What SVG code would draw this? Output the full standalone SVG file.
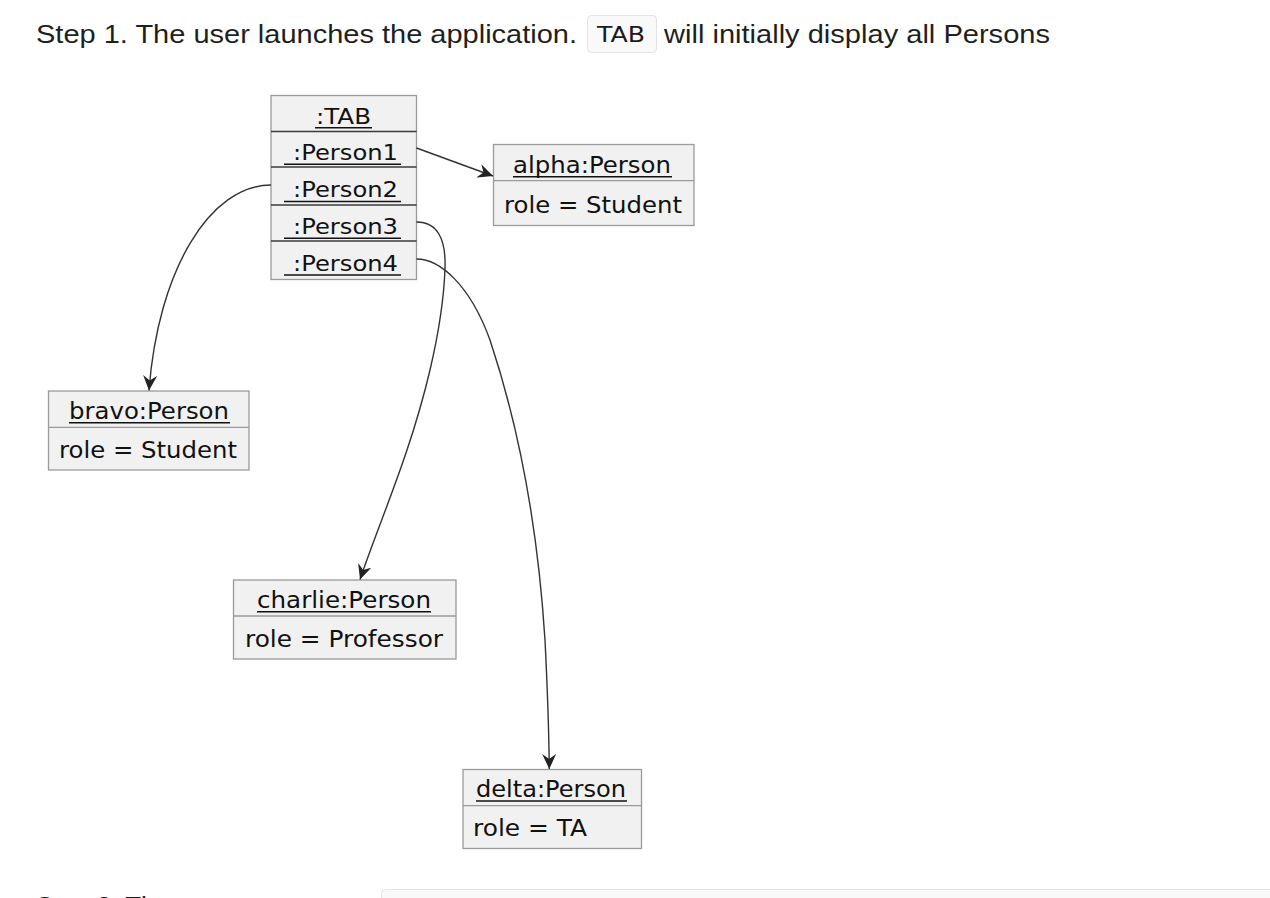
<svg xmlns="http://www.w3.org/2000/svg" width="1270" height="898" viewBox="0 0 1270 898">
<style>
.pg{font-family:"Liberation Sans",Arial,sans-serif;font-size:26px;fill:#1f1f1f}
.code{font-family:"DejaVu Sans","Liberation Sans",sans-serif;font-size:21px;fill:#1a1a1a}
.box{fill:#f1f1f1;stroke:#9a9a9a;stroke-width:1.3}
.sep{stroke:#9a9a9a;stroke-width:1.3}
.sepd{stroke:#3a3a3a;stroke-width:1.3}
.t{font-family:"DejaVu Sans","Noto Sans",sans-serif;font-size:23px;fill:#111}
.tr{font-family:"DejaVu Sans","Noto Sans",sans-serif;font-size:21px;fill:#111}
.ul{stroke:#111;stroke-width:1.4}
.conn{fill:none;stroke:#333;stroke-width:1.4}
</style>
<defs>
<marker id="ah" markerUnits="userSpaceOnUse" markerWidth="16" markerHeight="14" refX="15" refY="7" orient="auto">
<path d="M0,0 L15,7 L0,14 L5,7 Z" fill="#222"/>
</marker>
</defs>
<rect width="1270" height="898" fill="#ffffff"/>

<g id="header">
<text class="pg" x="36" y="43" textLength="541" lengthAdjust="spacingAndGlyphs">Step 1. The user launches the application.</text>
<rect x="587.5" y="15.5" width="69" height="37" rx="4" fill="#f9f9f9" stroke="#e3e3e3"/>
<text class="code" x="597" y="42" textLength="48" lengthAdjust="spacingAndGlyphs">TAB</text>
<text class="pg" x="664" y="43" textLength="386" lengthAdjust="spacingAndGlyphs">will initially display all Persons</text>
</g>

<g id="tab">
<rect class="box" x="271" y="95.5" width="145.5" height="184"/>
<line class="sepd" x1="271" y1="131.5" x2="416.5" y2="131.5"/>
<line class="sepd" x1="271" y1="167" x2="416.5" y2="167"/>
<line class="sepd" x1="271" y1="205" x2="416.5" y2="205"/>
<line class="sepd" x1="271" y1="241" x2="416.5" y2="241"/>
<text class="tr" x="316" y="124" textLength="55" lengthAdjust="spacingAndGlyphs">:TAB</text>
<line class="ul" x1="315" y1="127.7" x2="372" y2="127.7"/>
<text class="tr" x="293" y="160" textLength="105" lengthAdjust="spacingAndGlyphs">:Person1</text>
<line class="ul" x1="284" y1="164.3" x2="401" y2="164.3"/>
<text class="tr" x="293" y="197" textLength="105" lengthAdjust="spacingAndGlyphs">:Person2</text>
<line class="ul" x1="284" y1="201.5" x2="401" y2="201.5"/>
<text class="tr" x="293" y="234" textLength="105" lengthAdjust="spacingAndGlyphs">:Person3</text>
<line class="ul" x1="284" y1="238.3" x2="401" y2="238.3"/>
<text class="tr" x="293" y="271" textLength="105" lengthAdjust="spacingAndGlyphs">:Person4</text>
<line class="ul" x1="284" y1="275" x2="401" y2="275"/>
</g>

<g id="alpha">
<rect class="box" x="493.5" y="144.5" width="200.5" height="81"/>
<line class="sep" x1="493.5" y1="180.7" x2="694" y2="180.7"/>
<text class="t" x="513" y="173" textLength="158" lengthAdjust="spacingAndGlyphs">alpha:Person</text>
<line class="ul" x1="513" y1="176.7" x2="672" y2="176.7"/>
<text class="t" x="504" y="213" textLength="178" lengthAdjust="spacingAndGlyphs">role = Student</text>
</g>

<g id="bravo">
<rect class="box" x="48.5" y="391" width="200.5" height="79"/>
<line class="sep" x1="48.5" y1="427.3" x2="249" y2="427.3"/>
<text class="t" x="69" y="419" textLength="160" lengthAdjust="spacingAndGlyphs">bravo:Person</text>
<line class="ul" x1="69" y1="422.7" x2="230" y2="422.7"/>
<text class="t" x="59" y="458" textLength="178" lengthAdjust="spacingAndGlyphs">role = Student</text>
</g>

<g id="charlie">
<rect class="box" x="233.5" y="580" width="222.5" height="79"/>
<line class="sep" x1="233.5" y1="616" x2="456" y2="616"/>
<text class="t" x="257" y="608" textLength="174" lengthAdjust="spacingAndGlyphs">charlie:Person</text>
<line class="ul" x1="257" y1="611.7" x2="431" y2="611.7"/>
<text class="t" x="245" y="647" textLength="198" lengthAdjust="spacingAndGlyphs">role = Professor</text>
</g>

<g id="delta">
<rect class="box" x="463" y="769.5" width="178.5" height="79"/>
<line class="sep" x1="463" y1="805.7" x2="641.5" y2="805.7"/>
<text class="t" x="476" y="797" textLength="150" lengthAdjust="spacingAndGlyphs">delta:Person</text>
<line class="ul" x1="476" y1="801" x2="627" y2="801"/>
<text class="t" x="473" y="836" textLength="114" lengthAdjust="spacingAndGlyphs">role = TA</text>
</g>

<g id="connectors">
<path class="conn" d="M416.5,148 L493,176" marker-end="url(#ah)"/>
<path class="conn" d="M271,185 C210,185 158,270 149,390.5" marker-end="url(#ah)"/>
<path class="conn" d="M416.5,222 C438,222 446,240 445,268 C444,300 437,340 430,370 C410,455 380,520 360,579.5" marker-end="url(#ah)"/>
<path class="conn" d="M416.5,259 C440,259 470,285 490,340 C520,430 538,530 545,640 C548,700 549,740 549.3,769" marker-end="url(#ah)"/>
</g>

<g id="footer">
<text class="pg" x="36" y="915">Step 2. The</text>
<rect x="381.5" y="889.5" width="900" height="40" rx="4" fill="#f9f9f9" stroke="#e3e3e3"/>
</g>
</svg>
